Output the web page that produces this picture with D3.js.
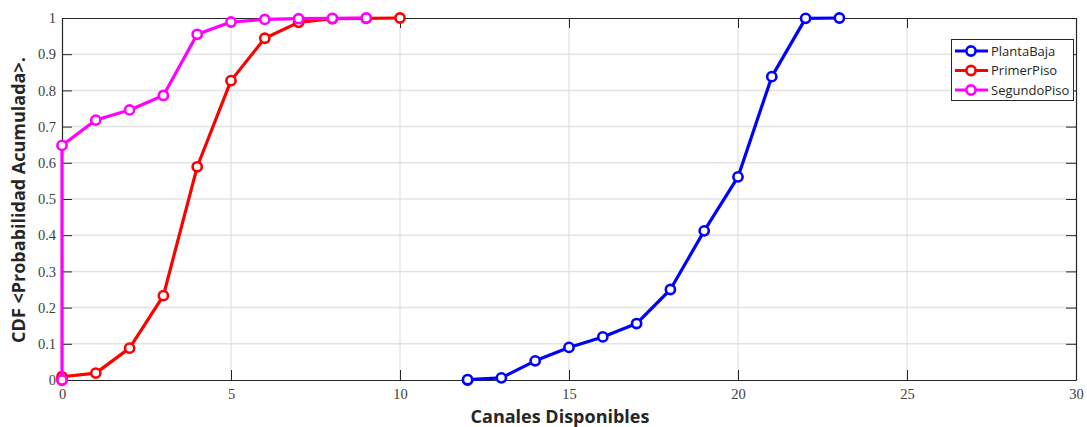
<!DOCTYPE html>
<html><head><meta charset="utf-8">
<script src="https://cdn.jsdelivr.net/npm/d3@7"></script>
<style>body{margin:0;background:#fff}svg{display:block}</style>
</head><body><svg id="c" width="1087" height="427"></svg>
<script>
const seriesNames = ["PlantaBaja", "PrimerPiso", "SegundoPiso"];
const seriesColors = ["#0000ff", "#ff0000", "#ff00ff"];
const plantaBajaX = [12, 12, 13, 14, 15, 16, 17, 18, 19, 20, 21, 22, 23];
const plantaBajaY = [0, 0.001, 0.006, 0.053, 0.090, 0.119, 0.156, 0.250, 0.412, 0.561, 0.838, 0.999, 1.0];
const primerPisoX = [0, 0, 1, 2, 3, 4, 5, 6, 7, 8, 9, 10];
const primerPisoY = [0, 0.009, 0.019, 0.088, 0.233, 0.589, 0.827, 0.944, 0.988, 0.998, 0.999, 1.0];
const segundoPisoX = [0, 0, 1, 2, 3, 4, 5, 6, 7, 8, 9];
const segundoPisoY = [0, 0.648, 0.718, 0.746, 0.786, 0.955, 0.989, 0.996, 0.998, 0.999, 1.0];
const xTicks = [0, 5, 10, 15, 20, 25, 30];
const yTicks = [0, 0.1, 0.2, 0.3, 0.4, 0.5, 0.6, 0.7, 0.8, 0.9, 1];
const xLabel = "Canales Disponibles";
const yLabel = "CDF <Probabilidad Acumulada>.";

const series = [
  {name: seriesNames[0], color: seriesColors[0], pts: plantaBajaX.map((x,i)=>[x, plantaBajaY[i]])},
  {name: seriesNames[1], color: seriesColors[1], pts: primerPisoX.map((x,i)=>[x, primerPisoY[i]])},
  {name: seriesNames[2], color: seriesColors[2], pts: segundoPisoX.map((x,i)=>[x, segundoPisoY[i]])}
];

const L = 62, R = 1076, T = 18, B = 380;
const svg = d3.select("#c");
const x = d3.scaleLinear().domain([0, 30]).range([L, R]);
const y = d3.scaleLinear().domain([0, 1]).range([B, T]);

// grid
const g = svg.append("g");
g.selectAll(".hg").data(yTicks.slice(1, -1)).join("line")
  .attr("x1", L).attr("x2", R).attr("y1", d=>y(d)).attr("y2", d=>y(d))
  .attr("stroke", "#e3e3e3").attr("stroke-width", 1.5);
g.selectAll(".vg").data(xTicks.slice(1, -1)).join("line")
  .attr("y1", T).attr("y2", B).attr("x1", d=>x(d)).attr("x2", d=>x(d))
  .attr("stroke", "#dadada").attr("stroke-width", 1);

// axes
const tickFont = "'Liberation Serif', 'DejaVu Serif', serif";
const ax = svg.append("g").attr("transform", `translate(0,${B})`)
  .call(d3.axisBottom(x).tickValues(xTicks).tickFormat(d3.format("d")).tickSizeInner(-10).tickSizeOuter(0).tickPadding(7));
const ay = svg.append("g").attr("transform", `translate(${L},0)`)
  .call(d3.axisLeft(y).tickValues(yTicks).tickFormat(d=>d===0?"0":d===1?"1":d3.format(".1f")(d)).tickSizeInner(-10).tickSizeOuter(0).tickPadding(6));
const axT = svg.append("g").attr("transform", `translate(0,${T})`)
  .call(d3.axisTop(x).tickValues(xTicks).tickFormat("").tickSizeInner(-10).tickSizeOuter(0));
const ayR = svg.append("g").attr("transform", `translate(${R},0)`)
  .call(d3.axisRight(y).tickValues(yTicks).tickFormat("").tickSizeInner(-10).tickSizeOuter(0));
[ax, ay, axT, ayR].forEach(a => {
  a.selectAll("path.domain").attr("stroke", "#262626").attr("stroke-width", 1.2);
  a.selectAll(".tick line").attr("stroke", "#262626");
  a.selectAll("text").attr("font-family", tickFont).attr("font-size", 14.5).attr("fill", "#404040");
});
ax.selectAll("text").attr("dy", "0.85em");

// lines
const line = d3.line().x(d=>x(d[0])).y(d=>y(d[1]));
series.forEach(s => {
  svg.append("path").datum(s.pts).attr("d", line).attr("fill", "none")
    .attr("stroke", s.color).attr("stroke-width", 3.2).attr("stroke-linejoin", "round");
  svg.selectAll(null).data(s.pts).join("circle")
    .attr("cx", d=>x(d[0])).attr("cy", d=>y(d[1])).attr("r", 4.6)
    .attr("fill", "#fff").attr("stroke", s.color).attr("stroke-width", 2.6);
});

// labels
const labelFont = "'Open Sans', 'Noto Sans', sans-serif";
svg.append("text").attr("x", 560).attr("y", 423).attr("text-anchor", "middle")
  .attr("font-family", labelFont).attr("font-weight", "bold").attr("font-size", 18).attr("fill", "#262626").text(xLabel);
svg.append("text").attr("transform", `translate(25,${(T+B)/2 + 1}) rotate(-90)`).attr("text-anchor", "middle")
  .attr("font-family", labelFont).attr("font-weight", "bold").attr("font-size", 18).attr("fill", "#262626").text(yLabel);

// legend
const lg = svg.append("g");
lg.append("rect").attr("x", 951.5).attr("y", 39.5).attr("width", 122).attr("height", 61)
  .attr("fill", "#fff").attr("stroke", "#262626").attr("stroke-width", 1);
series.forEach((s, i) => {
  const yy = 51 + i * 19.5;
  lg.append("line").attr("x1", 955).attr("x2", 988).attr("y1", yy).attr("y2", yy)
    .attr("stroke", s.color).attr("stroke-width", 3.2);
  lg.append("circle").attr("cx", 971).attr("cy", yy).attr("r", 4.6).attr("fill", "#fff")
    .attr("stroke", s.color).attr("stroke-width", 2.6);
  lg.append("text").attr("x", 991).attr("y", yy).attr("dy", "0.35em")
    .attr("font-family", labelFont).attr("font-size", 13).attr("fill", "#262626").text(s.name);
});
</script></body></html>
